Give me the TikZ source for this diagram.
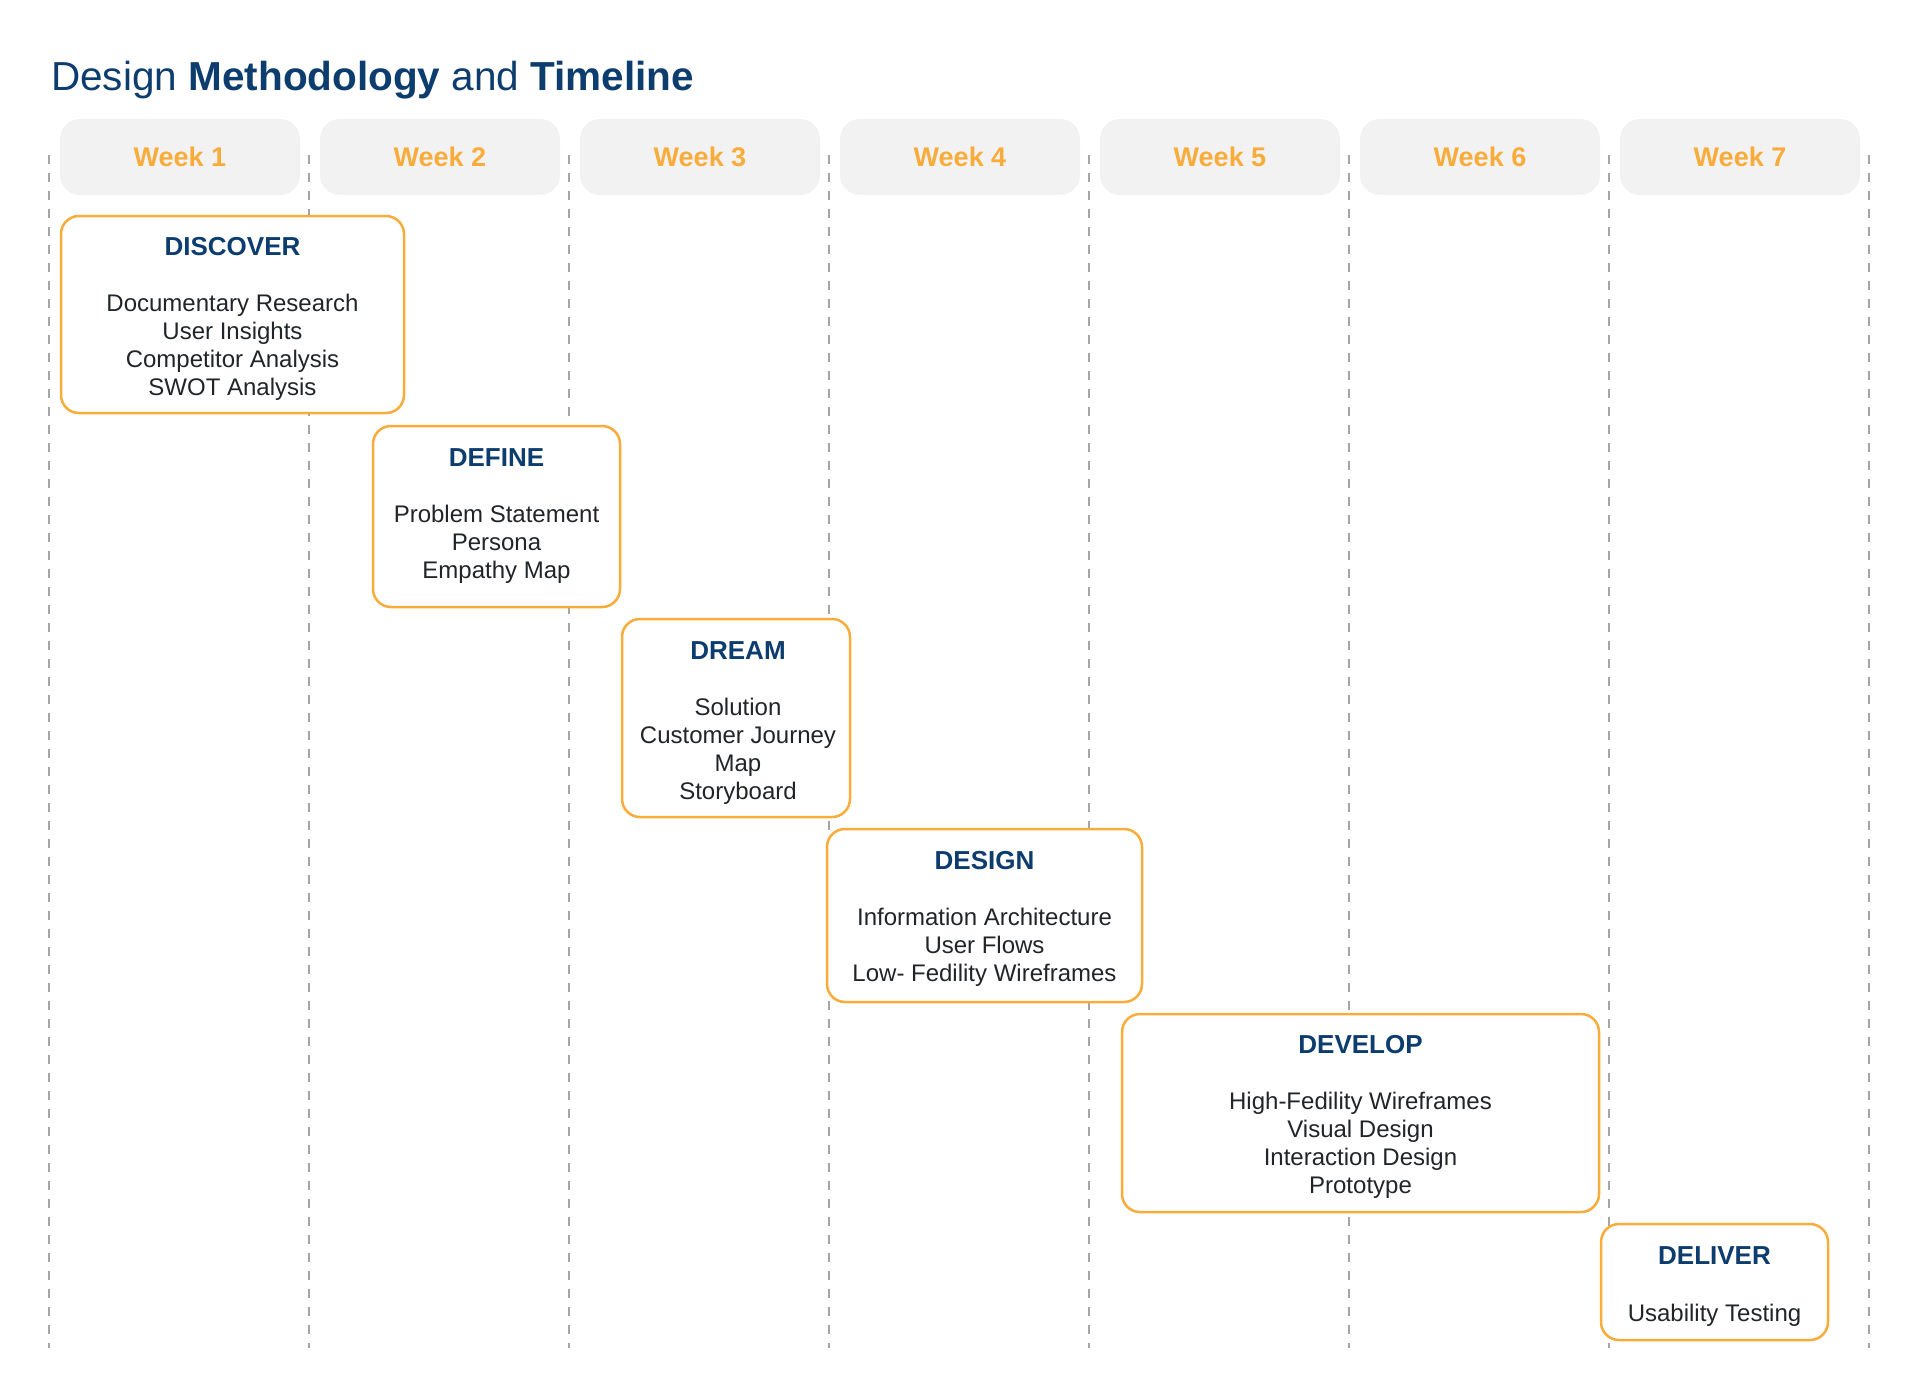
\documentclass[tikz,border=0pt]{standalone}
\usepackage{fontspec}
\setmainfont{Liberation Sans}
\usepackage{xcolor}
\definecolor{title-blue}{RGB}{13,61,110}
\definecolor{week-orange}{RGB}{249,172,58}
\definecolor{week-grey}{RGB}{242,242,242}
\definecolor{item-black}{RGB}{33,37,41}
\definecolor{grid-grey}{RGB}{165,165,165}
\usetikzlibrary{calc}

\begin{document}
\begin{tikzpicture}[
	x=1pt,y=-1pt,
	weekbox/.style={fill=week-grey,rounded corners=20pt,minimum width=240pt,minimum height=76pt,
		text=week-orange,font=\fontsize{27}{30}\selectfont\bfseries},
	phase/.style={draw=week-orange,line width=2.5pt,fill=white,rounded corners=18pt},
	phasetitle/.style={anchor=base,inner sep=0pt,text=title-blue,font=\fontsize{26}{30}\selectfont\bfseries},
	item/.style={anchor=base,inner sep=0pt,text=item-black,font=\fontsize{24}{28}\selectfont},
	gridline/.style={grid-grey,line width=1.4pt,dash pattern=on 9pt off 9pt}
	]
	
	\useasboundingbox (0,0) rectangle (1920,1377);
	
	\node[anchor=base west,inner sep=0pt,text=title-blue,font=\fontsize{40.5}{46}\selectfont]
		(title) at (51,90) {Design \textbf{Methodology} and \textbf{Timeline}};
	
	% dashed week separators
	\draw[gridline] (49,155) -- (49,1348);
	\draw[gridline] (309,155) -- (309,1348);
	\draw[gridline] (569,155) -- (569,1348);
	\draw[gridline] (829,155) -- (829,1348);
	\draw[gridline] (1089,155) -- (1089,1348);
	\draw[gridline] (1349,155) -- (1349,1348);
	\draw[gridline] (1609,155) -- (1609,1348);
	\draw[gridline] (1869,155) -- (1869,1348);
	
	\node[weekbox] (week1) at (180,157) {Week 1};
	\node[weekbox] (week2) at (440,157) {Week 2};
	\node[weekbox] (week3) at (700,157) {Week 3};
	\node[weekbox] (week4) at (960,157) {Week 4};
	\node[weekbox] (week5) at (1220,157) {Week 5};
	\node[weekbox] (week6) at (1480,157) {Week 6};
	\node[weekbox] (week7) at (1740,157) {Week 7};
	
	% phases
	\node[phase,minimum width=343pt,minimum height=197pt] (discover) at (232.5,314.5) {};
	\node[phase,minimum width=247pt,minimum height=181pt] (define) at (496.5,516.5) {};
	\node[phase,minimum width=228pt,minimum height=198pt] (dream) at (736,718) {};
	\node[phase,minimum width=315pt,minimum height=173pt] (design) at (984.5,915.5) {};
	\node[phase,minimum width=477pt,minimum height=198pt] (develop) at (1360.5,1113) {};
	\node[phase,minimum width=227pt,minimum height=116pt] (deliver) at (1714.5,1282) {};
	
	\path (discover.north)
		++(0,41) node[phasetitle] (discover-t) {DISCOVER}
		++(0,56) node[item] (discover-1) {Documentary Research}
		++(0,28) node[item] (discover-2) {User Insights}
		++(0,28) node[item] (discover-3) {Competitor Analysis}
		++(0,28) node[item] (discover-4) {SWOT Analysis};
	\path (define.north)
		++(0,42) node[phasetitle] (define-t) {DEFINE}
		++(0,56) node[item] (define-1) {Problem Statement}
		++(0,28) node[item] (define-2) {Persona}
		++(0,28) node[item] (define-3) {Empathy Map};
	\path ([xshift=2pt]dream.north)
		++(0,42) node[phasetitle] (dream-t) {DREAM}
		++(0,56) node[item] (dream-1) {Solution}
		++(0,28) node[item] (dream-2) {Customer Journey}
		++(0,28) node[item] (dream-3) {Map}
		++(0,28) node[item] (dream-4) {Storyboard};
	\path (design.north)
		++(0,42) node[phasetitle] (design-t) {DESIGN}
		++(0,56) node[item] (design-1) {Information Architecture}
		++(0,28) node[item] (design-2) {User Flows}
		++(0,28) node[item] (design-3) {Low- Fedility Wireframes};
	\path (develop.north)
		++(0,41) node[phasetitle] (develop-t) {DEVELOP}
		++(0,56) node[item] (develop-1) {High-Fedility Wireframes}
		++(0,28) node[item] (develop-2) {Visual Design}
		++(0,28) node[item] (develop-3) {Interaction Design}
		++(0,28) node[item] (develop-4) {Prototype};
	\path (deliver.north)
		++(0,42) node[phasetitle] (deliver-t) {DELIVER}
		++(0,57) node[item] (deliver-1) {Usability Testing};
\end{tikzpicture}
\end{document}
